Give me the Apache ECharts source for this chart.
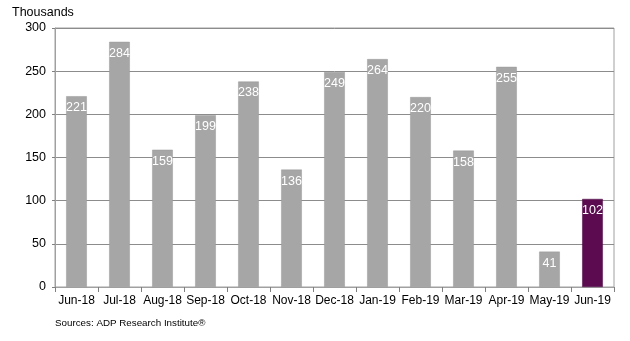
<!DOCTYPE html>
<html><head><meta charset="utf-8">
<script src="https://cdn.jsdelivr.net/npm/echarts@6/dist/echarts.min.js"></script>
<style>html,body{margin:0;padding:0;background:#fff}#c{width:630px;height:341px}</style>
</head><body><div id="c"></div>
<script>
const categories = ["Jun-18","Jul-18","Aug-18","Sep-18","Oct-18","Nov-18","Dec-18","Jan-19","Feb-19","Mar-19","Apr-19","May-19","Jun-19"];
const values = [221,284,159,199,238,136,249,264,220,158,255,41,102];
const highlightIndex = 12;
const yTicks = [0,50,100,150,200,250,300];

const font = "Liberation Sans, Arial, sans-serif";
const chart = echarts.init(document.getElementById('c'), null, {renderer:'canvas'});
chart.setOption({
  animation:false,
  grid:{left:55,right:16,top:28,bottom:54,show:true,borderColor:'#a0a0a0',borderWidth:1},
  title:[
    {text:'Thousands',left:12,top:6,padding:0,textStyle:{fontFamily:font,fontSize:12.5,fontWeight:'normal',color:'#000'}},
    {text:'Sources: ADP Research Institute®',left:55,top:318,padding:0,textStyle:{fontFamily:font,fontSize:9.8,fontWeight:'normal',color:'#000'}}
  ],
  xAxis:{type:'category',data:categories,
    axisLine:{lineStyle:{color:'#a0a0a0'}},
    axisTick:{show:true,length:5,lineStyle:{color:'#808080'}},
    axisLabel:{fontFamily:font,fontSize:12,color:'#000',margin:8,interval:0}},
  yAxis:{type:'value',min:yTicks[0],max:yTicks[yTicks.length-1],interval:50,
    axisLine:{show:true,lineStyle:{color:'#a0a0a0'}},
    axisTick:{show:true,length:3,lineStyle:{color:'#808080'}},
    splitLine:{lineStyle:{color:'#8c8c8c'}},
    axisLabel:{fontFamily:font,fontSize:12.5,color:'#000',margin:9}},
  series:[{type:'bar',barWidth:'48%',
    data:values.map((v,i)=>({value:v,itemStyle:{color:i===highlightIndex?'#5c0b51':'#a6a6a6',borderColor:i===highlightIndex?'#4a0842':'#999',borderWidth:0.5}})),
    label:{show:true,position:'insideTop',distance:5,color:'#fff',fontFamily:font,fontSize:12.5}}]
});
</script></body></html>
